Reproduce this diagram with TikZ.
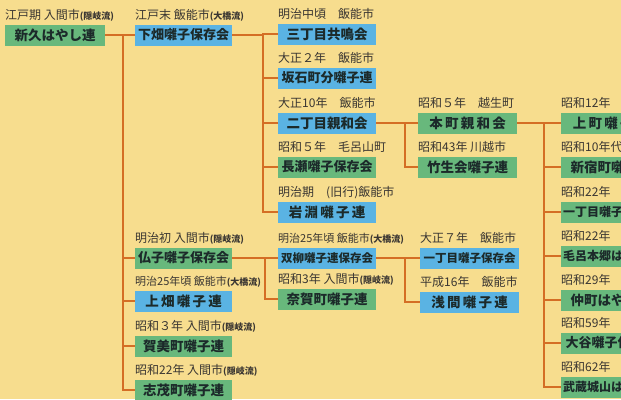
\documentclass[tikz,border=0pt]{standalone}
\usepackage{fontspec}
\newfontfamily\jp{Noto Sans CJK JP}
\definecolor{bg}{HTML}{F7DD8E}
\definecolor{gc}{HTML}{68B87C}
\definecolor{bc}{HTML}{5AB3E3}
\definecolor{lc}{HTML}{D46E25}
\definecolor{labtext}{HTML}{3A3632}
\definecolor{boxtext}{HTML}{1C2A2A}
\newcommand\ryu[1]{{\bfseries\fontsize{9}{9}\selectfont(#1)}}
\newcommand\labsm{\fontsize{11}{11}\selectfont}
\newcommand\ent[6]{%
  \node[#4,anchor=west] (#1) at (#2,#3) {#5};
  \node[lab,anchor=base west] (#1-l) at ([yshift=4.5pt]#1.north west) {#6};}
\tikzset{
  conn/.style={draw=lc, line width=2.4pt},
  boxbase/.style={minimum height=21pt, inner sep=0pt, text=boxtext,
                  font=\jp\bfseries\fontsize{13.5}{13.5}\selectfont},
  gbox/.style={boxbase, fill=gc},
  bbox/.style={boxbase, fill=bc},
  lab/.style={inner sep=0pt, text=labtext, font=\jp\fontsize{12}{12}\selectfont},
  wa/.style={minimum width=100pt},
  wb/.style={minimum width=97pt},
  wc/.style={minimum width=98pt},
  wd/.style={minimum width=99pt},
  we/.style={minimum width=100pt},
}
\begin{document}
\begin{tikzpicture}[x=1pt,y=-1pt]
\useasboundingbox (0,0) rectangle (621,399);
\fill[bg] (0,0) rectangle (621,399);
\clip (0,0) rectangle (621,399);

% column 1
\ent{shinku}{5}{35}{gbox,wa}{新久はやし連}{江戸期 入間市\ryu{隠岐流}}
% column 2
\ent{shimo}{135}{35}{bbox,wb,font=\jp\bfseries\fontsize{13}{13}\selectfont}{下畑囃子保存会}{江戸末 飯能市\ryu{大橋流}}
\ent{butsu}{135}{258}{gbox,wb,font=\jp\bfseries\fontsize{13}{13}\selectfont}{仏子囃子保存会}{明治初 入間市\ryu{隠岐流}}
\ent{kamihata}{135}{301}{bbox,wb}{上\,畑\,囃\,子\,連}{\labsm 明治25年頃 飯能市\ryu{大橋流}}
\ent{kami}{135}{346}{gbox,wb}{賀美町囃子連}{昭和３年 入間市\ryu{隠岐流}}
\ent{shimomachi}{135}{390}{gbox,wb}{志茂町囃子連}{昭和22年 入間市\ryu{隠岐流}}
% column 3
\ent{sanchome}{278}{34}{bbox,wc}{三丁目共鳴会}{明治中頃　飯能市}
\ent{sakaishi}{278}{78}{bbox,wc,font=\jp\bfseries\fontsize{13}{13}\selectfont}{坂石町分囃子連}{大正２年　飯能市}
\ent{nichome}{278}{123}{bbox,wc}{二丁目親和会}{大正10年　飯能市}
\ent{nagase}{278}{167}{gbox,wc,font=\jp\bfseries\fontsize{13}{13}\selectfont}{長瀬囃子保存会}{昭和５年　毛呂山町}
\ent{iwabuchi}{278}{212}{bbox,wc}{岩\,淵\,囃\,子\,連}{明治期　(旧行)飯能市}
\ent{futa}{278}{258}{bbox,wc,font=\jp\bfseries\fontsize{11.5}{11.5}\selectfont}{双柳囃子連保存会}{\labsm 明治25年頃 飯能市\ryu{大橋流}}
\ent{naga}{278}{299}{gbox,wc}{奈賀町囃子連}{昭和3年 入間市\ryu{隠岐流}}
% column 4
\ent{honcho}{418}{123}{gbox,wd}{本\,町\,親\,和\,会}{昭和５年　越生町}
\ent{chikubu}{418}{167}{gbox,wd}{竹生会囃子連}{昭和43年 川越市}
\ent{itchome}{420}{258}{bbox,wd,font=\jp\bfseries\fontsize{11.5}{11.5}\selectfont}{一丁目囃子保存会}{大正７年　飯能市}
\ent{sengen}{420}{302}{bbox,wd}{浅\,間\,囃\,子\,連}{平成16年　飯能市}
% column 5
\ent{kamicho}{561}{123}{gbox,we}{上\,町\,囃\,子\,連}{昭和12年}
\ent{shinjuku}{561}{167}{gbox,we}{新宿町囃子連}{昭和10年代}
\ent{ichome}{561}{212}{gbox,we,font=\jp\bfseries\fontsize{12}{12}\selectfont}{一丁目囃子保存会}{昭和22年}
\ent{moro}{561}{256}{gbox,we,font=\jp\bfseries\fontsize{12}{12}\selectfont}{毛呂本郷はやし連}{昭和22年}
\ent{nakacho}{561}{300}{gbox,we}{仲町はやし連}{昭和29年}
\ent{oya}{561}{343}{gbox,we,font=\jp\bfseries\fontsize{13}{13}\selectfont}{大谷囃子保存会}{昭和59年}
\ent{musashi}{561}{387}{gbox,we,font=\jp\bfseries\fontsize{12}{12}\selectfont}{武蔵城山はやし連}{昭和62年}

% trunk coordinates
\coordinate (t2) at (123,35);
\coordinate (t3) at (263,35);
\coordinate (t3b) at (265,258);
\coordinate (t4) at (405,123);
\coordinate (t4b) at (405,258);
\coordinate (t5) at (544,123);

% connectors
\draw[conn] (shinku.east) -- (shimo.west);
\draw[conn] (t2) |- (butsu.west);
\draw[conn] (t2) |- (kamihata.west);
\draw[conn] (t2) |- (kami.west);
\draw[conn] (t2) |- (shimomachi.west);

\draw[conn] (shimo.east) -- (t3) |- (sanchome.west);
\draw[conn] (t3) |- (sakaishi.west);
\draw[conn] (t3) |- (nichome.west);
\draw[conn] (t3) |- (nagase.west);
\draw[conn] (t3) |- (iwabuchi.west);

\draw[conn] (butsu.east) -- (futa.west);
\draw[conn] (t3b) |- (naga.west);

\draw[conn] (nichome.east) -- (honcho.west);
\draw[conn] (t4) |- (chikubu.west);

\draw[conn] (futa.east) -- (itchome.west);
\draw[conn] (t4b) |- (sengen.west);

\draw[conn] (honcho.east) -- (kamicho.west);
\draw[conn] (t5) |- (shinjuku.west);
\draw[conn] (t5) |- (ichome.west);
\draw[conn] (t5) |- (moro.west);
\draw[conn] (t5) |- (nakacho.west);
\draw[conn] (t5) |- (oya.west);
\draw[conn] (t5) |- (musashi.west);
\end{tikzpicture}
\end{document}
